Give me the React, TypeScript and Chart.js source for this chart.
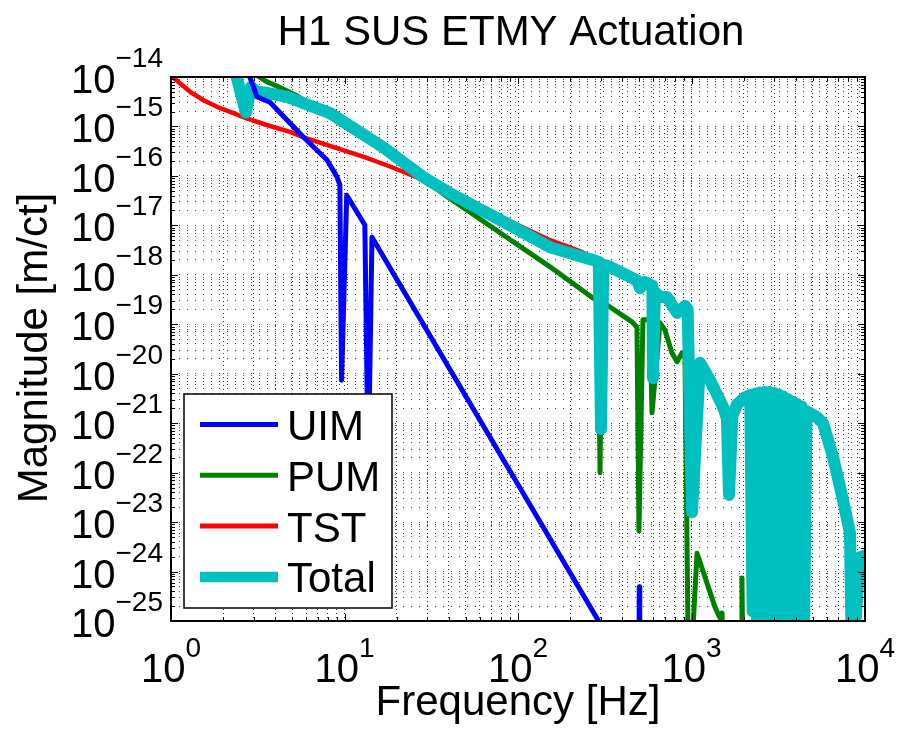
import React, { useEffect, useRef } from "react";
import { Chart, registerables } from "chart.js";

Chart.register(...registerables);

// ---------- text ----------
const TITLE = "H1 SUS ETMY Actuation";
const X_LABEL = "Frequency [Hz]";
const Y_LABEL = "Magnitude [m/ct]";

// ---------- axes ----------
const X_DECADE_EXPONENTS = [0, 1, 2, 3, 4];
const Y_DECADE_EXPONENTS = [-25, -24, -23, -22, -21, -20, -19, -18, -17, -16, -15, -14];
const MINOR_MULTIPLIERS = [2, 3, 4, 5, 6, 7, 8, 9];

// ---------- series ----------
const UIM_FREQ = [2.75, 3.13, 3.48, 3.72, 5.77, 7.93, 9.05, 9.4, 9.62, 10.3, 13.1, 13.7, 14.4, 40, 100, 289, 400, 497, 500, 503];
const UIM_MAG = [1.41e-14, 3.98e-15, 3.39e-15, 3.09e-15, 6.17e-16, 2.09e-16, 9.55e-17, 6.61e-17, 7.41e-21, 4.07e-17, 1.02e-17, 1.0e-22, 5.75e-18, 1.32e-20, 5.75e-23, 1.05e-25, 1.58e-26, 5.0e-27, 4.9e-25, 5.0e-27];

const PUM_FREQ = [3.1, 3.5, 4.42, 5.32, 8.25, 16.7, 28.3, 39.5, 78.8, 153, 270, 290, 297, 304, 326, 454, 485, 498, 525, 576, 592, 658, 703, 772, 825, 881, 917, 960, 990, 1076, 1366, 1460, 1499, 1540, 1930, 1954, 1980];
const PUM_MAG = [1.12e-14, 8.32e-15, 5.75e-15, 4.17e-15, 1.58e-15, 3.39e-16, 8.71e-17, 3.72e-17, 7.08e-18, 1.45e-18, 3.39e-19, 3.02e-19, 1.0e-22, 2.82e-19, 2.45e-19, 1.12e-19, 8.71e-20, 6.61e-24, 1.23e-19, 1.23e-19, 1.62e-21, 1.07e-19, 7.59e-20, 2.63e-20, 1.74e-20, 2.63e-20, 2.19e-20, 1.0e-26, 1.0e-26, 2.34e-24, 1.91e-25, 1.15e-25, 1.45e-25, 1.0e-26, 1.0e-26, 7.41e-25, 1.0e-26];

const TST_FREQ = [1.0, 1.13, 1.29, 1.54, 1.92, 2.29, 2.73, 3.56, 4.85, 6.06, 9.02, 12.8, 18.3, 28.4, 45, 78.8, 153, 227, 260];
const TST_MAG = [1.07e-14, 7.41e-15, 5.01e-15, 3.39e-15, 2.34e-15, 1.86e-15, 1.45e-15, 1.07e-15, 7.76e-16, 5.75e-16, 3.63e-16, 2.45e-16, 1.55e-16, 8.32e-17, 3.98e-17, 1.51e-17, 5.01e-18, 3.02e-18, 2.4e-18];

const TOTAL_FREQ = [2.35, 2.7, 2.89, 3.13, 3.57, 4.66, 8.25, 16.7, 28.3, 40.5, 78.8, 153, 270, 292, 301, 310, 330, 485, 505, 540, 595, 600, 615, 658, 722, 825, 917, 950, 1007, 1119, 1278, 1519, 1600, 1645, 1720, 1829, 2034, 2180, 2250, 2330, 2400, 2480, 2560, 2640, 2720, 2810, 2900, 2990, 3080, 3180, 3280, 3380, 3480, 3590, 3700, 3820, 3940, 4060, 4180, 4310, 4440, 4600, 5289, 5727, 6540, 7465, 8195, 8420, 9355, 10000];
const TOTAL_MAG = [1.26e-14, 1.91e-15, 6.31e-15, 5.01e-15, 4.79e-15, 3.98e-15, 1.86e-15, 3.8e-16, 9.55e-17, 4.47e-17, 1.29e-17, 3.63e-18, 2.0e-18, 1.82e-18, 7.59e-22, 1.58e-18, 1.51e-18, 7.76e-19, 5.37e-19, 7.08e-19, 6.03e-19, 8.13e-21, 4.47e-19, 3.55e-19, 3.55e-19, 1.7e-19, 2.34e-19, 2.0e-19, 1.58e-23, 1.66e-20, 7.41e-21, 2.14e-21, 1.26e-21, 3.55e-23, 1.41e-21, 2.4e-21, 3.31e-21, 3.72e-21, 1.58e-25, 3.98e-21, 2.51e-26, 4.17e-21, 2.51e-26, 4.27e-21, 2.51e-26, 4.27e-21, 2.51e-26, 4.07e-21, 2.51e-26, 3.8e-21, 2.51e-26, 3.47e-21, 2.51e-26, 3.09e-21, 2.51e-26, 2.75e-21, 2.51e-26, 2.45e-21, 2.51e-26, 2.19e-21, 2.51e-26, 1.74e-21, 1.32e-21, 1.0e-21, 2.09e-22, 2.82e-23, 6.03e-24, 1.0e-26, 1.95e-24, 2.14e-24];

const SERIES_LABELS = ["UIM", "PUM", "TST", "Total"];
const SERIES_COLORS = ["#0000ff", "#008000", "#ff0000", "#00bfbf"];

const FONT = '"Liberation Sans", Arial, Helvetica, sans-serif';

function toPoints(f: number[], m: number[]) {
  return f.map((v, i) => ({ x: v, y: m[i] }));
}

function buildTicks(exps: number[]) {
  const vals: number[] = [];
  exps.forEach((e, i) => {
    vals.push(Math.pow(10, e));
    if (i < exps.length - 1) MINOR_MULTIPLIERS.forEach((m) => vals.push(m * Math.pow(10, e)));
  });
  return vals.sort((a, b) => a - b);
}

function isMajor(v: number) {
  const l = Math.log10(v);
  return Math.abs(l - Math.round(l)) < 1e-6;
}

const decorPlugin = {
  id: "decor",
  afterDraw(chart: any) {
    const { ctx, chartArea: a } = chart;
    const xs = chart.scales.x;
    const ys = chart.scales.y;
    ctx.save();

    // inward tick marks
    ctx.strokeStyle = "#000";
    ctx.lineWidth = 1;
    ctx.setLineDash([]);
    ctx.beginPath();
    for (const t of xs.ticks) {
      const px = Math.round(xs.getPixelForValue(t.value)) + 0.5;
      const len = isMajor(t.value) ? 7 : 4;
      ctx.moveTo(px, a.bottom);
      ctx.lineTo(px, a.bottom - len);
      ctx.moveTo(px, a.top);
      ctx.lineTo(px, a.top + len);
    }
    for (const t of ys.ticks) {
      const py = Math.round(ys.getPixelForValue(t.value)) + 0.5;
      const len = isMajor(t.value) ? 7 : 4;
      ctx.moveTo(a.left, py);
      ctx.lineTo(a.left + len, py);
      ctx.moveTo(a.right, py);
      ctx.lineTo(a.right - len, py);
    }
    ctx.stroke();

    // axes box
    ctx.lineWidth = 2;
    ctx.strokeRect(a.left, a.top, a.right - a.left, a.bottom - a.top);

    ctx.fillStyle = "#000";
    ctx.textBaseline = "alphabetic";

    // x tick labels
    for (const e of X_DECADE_EXPONENTS) {
      const px = xs.getPixelForValue(Math.pow(10, e));
      ctx.font = `40px ${FONT}`;
      const w10 = ctx.measureText("10").width;
      ctx.font = `28px ${FONT}`;
      const ex = String(e);
      const we = ctx.measureText(ex).width;
      const start = px - (w10 + we) / 2;
      ctx.textAlign = "left";
      ctx.font = `40px ${FONT}`;
      ctx.fillText("10", start, a.bottom + 61);
      ctx.font = `28px ${FONT}`;
      ctx.fillText(ex, start + w10, a.bottom + 36);
    }

    // y tick labels
    const yRight = a.left - 8;
    for (const e of Y_DECADE_EXPONENTS) {
      const py = ys.getPixelForValue(Math.pow(10, e));
      const ex = "\u2212" + String(Math.abs(e));
      ctx.font = `28px ${FONT}`;
      const we = ctx.measureText(ex).width;
      ctx.textAlign = "right";
      ctx.fillText(ex, yRight, py - 10);
      ctx.font = `40px ${FONT}`;
      ctx.fillText("10", yRight - we, py + 16);
    }

    // title
    ctx.font = `42px ${FONT}`;
    ctx.textAlign = "center";
    ctx.fillText(TITLE, (a.left + a.right) / 2 - 7, 45);

    // x label
    ctx.fillText(X_LABEL, (a.left + a.right) / 2, a.bottom + 94);

    // y label
    ctx.save();
    ctx.translate(47, (a.top + a.bottom) / 2 - 1);
    ctx.rotate(-Math.PI / 2);
    ctx.fillText(Y_LABEL, 0, 0);
    ctx.restore();

    // legend
    const lx = a.left + 13;
    const lt = 394;
    const lr = 392;
    const lb = a.bottom - 13;
    ctx.fillStyle = "#fff";
    ctx.fillRect(lx, lt, lr - lx, lb - lt);
    ctx.strokeStyle = "#000";
    ctx.lineWidth = 1.5;
    ctx.strokeRect(lx, lt, lr - lx, lb - lt);
    chart.data.datasets.forEach((ds: any, i: number) => {
      const ry = lt + 30.5 + i * 50.8;
      ctx.strokeStyle = ds.borderColor;
      ctx.lineWidth = i === 3 ? 10.5 : 5;
      ctx.lineCap = "butt";
      ctx.beginPath();
      ctx.moveTo(lx + 16, ry);
      ctx.lineTo(lx + 94, ry);
      ctx.stroke();
      ctx.fillStyle = "#000";
      ctx.font = `42px ${FONT}`;
      ctx.textAlign = "left";
      ctx.fillText(ds.label, lx + 103, ry + 15.5);
    });

    ctx.restore();
  },
};

export default function App() {
  const ref = useRef<HTMLCanvasElement>(null);

  useEffect(() => {
    const seriesFreq = [UIM_FREQ, PUM_FREQ, TST_FREQ, TOTAL_FREQ];
    const seriesMag = [UIM_MAG, PUM_MAG, TST_MAG, TOTAL_MAG];
    const widths = [5, 5, 4.5, 12];
    const orders = [0, 3, 2, 1];
    const xTicks = buildTicks(X_DECADE_EXPONENTS);
    const yTicks = buildTicks(Y_DECADE_EXPONENTS);

    const chart = new Chart(ref.current as HTMLCanvasElement, {
      type: "line",
      data: {
        datasets: SERIES_LABELS.map((label, i) => ({
          label,
          data: toPoints(seriesFreq[i], seriesMag[i]),
          borderColor: SERIES_COLORS[i],
          backgroundColor: SERIES_COLORS[i],
          borderWidth: widths[i],
          pointRadius: 0,
          pointHoverRadius: 0,
          fill: false,
          tension: 0,
          clip: 0,
          order: orders[i],
          borderJoinStyle: "round",
          borderCapStyle: "round",
        })) as any,
      },
      options: {
        responsive: false,
        animation: false,
        devicePixelRatio: 1,
        events: [],
        layout: { padding: { left: 171, right: 34, top: 77, bottom: 114 } },
        plugins: {
          legend: { display: false },
          tooltip: { enabled: false },
          title: { display: false },
        },
        scales: {
          x: {
            type: "logarithmic",
            min: 1,
            max: 10000,
            afterBuildTicks: (scale: any) => {
              scale.ticks = xTicks.map((v) => ({ value: v, major: isMajor(v) }));
            },
            ticks: { display: false, autoSkip: false },
            grid: { color: "rgba(0,0,0,0.8)", lineWidth: 1, drawTicks: false },
            border: { display: false, dash: [1, 3] },
            title: { display: false },
          },
          y: {
            type: "logarithmic",
            min: 1e-25,
            max: 1e-14,
            afterBuildTicks: (scale: any) => {
              scale.ticks = yTicks.map((v) => ({ value: v, major: isMajor(v) }));
            },
            ticks: { display: false, autoSkip: false },
            grid: { color: "rgba(0,0,0,0.7)", lineWidth: 1, drawTicks: false },
            border: { display: false, dash: [1, 7] },
            title: { display: false },
          },
        },
      } as any,
      plugins: [decorPlugin],
    });
    return () => chart.destroy();
  }, []);

  return (
    <div style={{ position: "absolute", left: 0, top: 0, width: 899, height: 735, background: "#fff" }}>
      <canvas ref={ref} width={899} height={735} style={{ display: "block", width: 899, height: 735 }} />
    </div>
  );
}
